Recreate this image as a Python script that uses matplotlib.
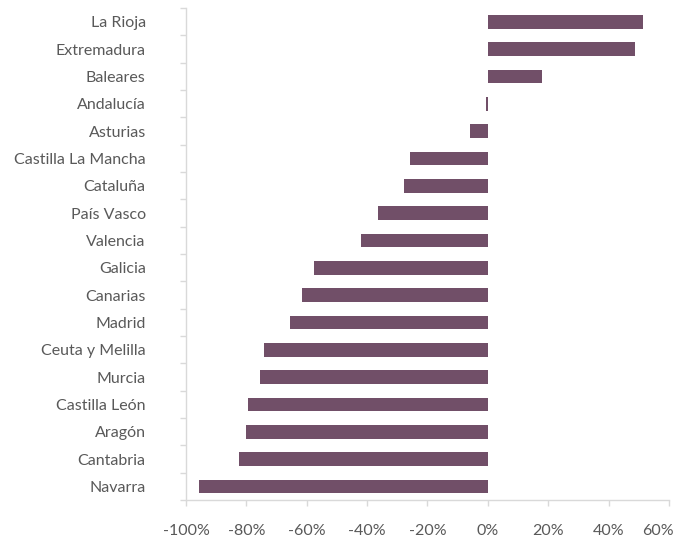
import numpy as np
import matplotlib
matplotlib.use("Agg")
import matplotlib.pyplot as plt
import matplotlib.transforms as mtransforms
from matplotlib.ticker import FixedLocator, PercentFormatter

# Data (% change)
regions = ["La Rioja", "Extremadura", "Baleares", "Andalucía", "Asturias",
           "Castilla La Mancha", "Cataluña", "País Vasco", "Valencia", "Galicia",
           "Canarias", "Madrid", "Ceuta y Melilla", "Murcia", "Castilla León",
           "Aragón", "Cantabria", "Navarra"]
values = [51.3, 48.7, 17.9, -0.5, -6.0,
          -25.8, -27.8, -36.4, -42.1, -57.6,
          -61.6, -65.6, -74.2, -75.5, -79.5,
          -80.1, -82.5, -95.7]
xticks = [-100, -80, -60, -40, -20, 0, 20, 40, 60]

BAR = "#714F68"
GRID = "#D9D9D9"
TXT = "#595959"

plt.rcParams['font.family'] = ['Lato', 'DejaVu Sans']
plt.rcParams['axes.unicode_minus'] = False

fig = plt.figure(figsize=(6.91, 5.44), dpi=100)
ax = fig.add_axes([186/691, 44/544, (669-186)/691, (500-8)/544])

y = np.arange(len(regions))
ax.barh(y, values, height=0.5, color=BAR)

ax.set_xlim(-100, 60)
ax.set_ylim(len(regions) - 0.5, -0.5)

ax.set_yticks(y)
ax.set_yticklabels(regions)
ax.yaxis.set_minor_locator(FixedLocator(np.arange(-0.5, len(regions), 1)))
ax.tick_params(axis='y', which='major', length=0, pad=29, labelsize=11.5, labelcolor=TXT)
ax.tick_params(axis='y', which='minor', length=4.5, color=GRID, width=1)

ax.set_xticks(xticks)
ax.xaxis.set_major_formatter(PercentFormatter(decimals=0))
ax.tick_params(axis='x', length=4.5, color=GRID, width=1, pad=13, labelsize=11.5, labelcolor=TXT)

# last label sits a bit inward, like the original
last = ax.get_xticklabels()[-1]
last.set_transform(last.get_transform() +
                   mtransforms.ScaledTranslation(-0.11, 0, fig.dpi_scale_trans))

for side in ['top', 'right']:
    ax.spines[side].set_visible(False)
for side in ['left', 'bottom']:
    ax.spines[side].set_color(GRID)
    ax.spines[side].set_linewidth(1)

fig.savefig("out.png", dpi=100)
